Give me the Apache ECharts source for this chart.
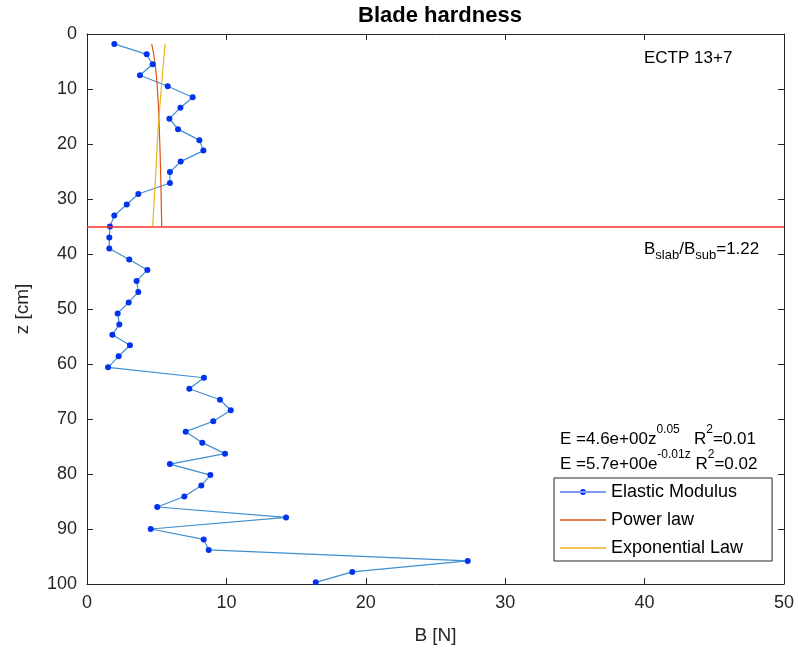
<!DOCTYPE html>
<html>
<head>
<meta charset="utf-8">
<script src="https://cdn.jsdelivr.net/npm/echarts@6/dist/echarts.min.js"></script>
<style>
  html, body { margin: 0; padding: 0; background: #fff; }
  #chart { width: 798px; height: 657px; }
</style>
</head>
<body>
<div id="chart"></div>
<script>
const zValues = [1.8, 3.7, 5.5, 7.5, 9.5, 11.5, 13.4, 15.4, 17.3, 19.3, 21.2, 23.2, 25.1, 27.1, 29.1, 31.0, 33.0,
  35.0, 37.0, 39.0, 41.0, 42.9, 44.9, 46.9, 48.8, 50.8, 52.8, 54.7, 56.6, 58.6, 60.6, 62.5, 64.5, 66.5,
  68.4, 70.4, 72.3, 74.3, 76.3, 78.2, 80.2, 82.1, 84.1, 86.0, 87.9, 90.0, 91.9, 93.8, 95.8, 97.8, 99.7]
const bValues = [1.96, 4.28, 4.71, 3.80, 5.79, 7.58, 6.70, 5.91, 6.53, 8.06, 8.35, 6.72, 5.95, 5.95, 3.68, 2.85, 1.96,
  1.65, 1.60, 1.60, 3.03, 4.33, 3.56, 3.68, 2.99, 2.20, 2.32, 1.82, 3.08, 2.27, 1.51, 8.39, 7.34, 9.54,
  10.31, 9.06, 7.08, 8.27, 9.90, 5.95, 8.85, 8.20, 6.98, 5.04, 14.28, 4.57, 8.37, 8.73, 27.31, 19.03, 16.41]

// fit curves (slab part)
const powerZ = [1.8, 5.3, 10, 17.5, 26, 35]
const powerB = [4.64, 4.88, 5.05, 5.19, 5.29, 5.36]
const expZ = [1.8, 9, 17.5, 26, 35]
const expB = [5.60, 5.36, 5.10, 4.92, 4.71]

const slabDepth = 35
const xTicks = [0, 10, 20, 30, 40, 50]
const yTicks = [0, 10, 20, 30, 40, 50, 60, 70, 80, 90, 100]

const font = 'Liberation Sans, Arial, Helvetica, sans-serif'
const axisCol = '#262626'

const pairs = (xs, zs) => xs.map((b, i) => [b, zs[i]])

const chart = echarts.init(document.getElementById('chart'))

// matlab style box: ticks inside on all four sides
const tickBase = {
  axisLine: { show: true, onZero: false, lineStyle: { color: axisCol, width: 1 } },
  axisTick: { show: true, inside: true, length: 6, lineStyle: { color: axisCol } },
  splitLine: { show: false }
}

// legend icons
const dotLineIcon = 'path://M0,2.5 H46 V3.5 H0 Z M20,3 A3,3 0 1,0 26,3 A3,3 0 1,0 20,3 Z'
const lineIcon = 'path://M0,0 H46 V1.4 H0 Z'

const option = {
  animation: false,
  backgroundColor: '#fff',
  textStyle: { fontFamily: font },
  title: {
    text: 'Blade hardness',
    left: 435, top: 0, textAlign: 'center',
    textStyle: { fontSize: 22, fontWeight: 'bold', color: '#000', fontFamily: font }
  },
  grid: { left: 87, right: 14, top: 34, bottom: 73 },
  xAxis: [{
    type: 'value', min: xTicks[0], max: xTicks[xTicks.length - 1], interval: 10,
    name: 'B [N]', nameLocation: 'middle', nameGap: 42,
    nameTextStyle: { fontSize: 19, color: axisCol, fontFamily: font },
    axisLabel: { fontSize: 18, color: axisCol, margin: 10, fontFamily: font },
    ...tickBase
  }, {
    type: 'value', position: 'top', min: 0, max: 50, interval: 10,
    axisLabel: { show: false }, ...tickBase
  }],
  yAxis: [{
    type: 'value', inverse: true, min: yTicks[0], max: yTicks[yTicks.length - 1], interval: 10,
    name: 'z [cm]', nameLocation: 'middle', nameGap: 55, nameRotate: 90,
    nameTextStyle: { fontSize: 19, color: axisCol, fontFamily: font },
    axisLabel: { fontSize: 18, color: axisCol, margin: 10, fontFamily: font },
    ...tickBase
  }, {
    type: 'value', position: 'right', inverse: true, min: 0, max: 100, interval: 10,
    axisLabel: { show: false }, ...tickBase
  }],
  legend: {
    orient: 'vertical',
    left: 554, top: 478,
    backgroundColor: '#fff',
    borderColor: axisCol, borderWidth: 1, borderRadius: 0,
    padding: [5, 29, 4, 6],
    itemGap: 10,
    itemWidth: 46, itemHeight: 14,
    symbolKeepAspect: true,
    textStyle: { fontSize: 18, color: '#000', fontFamily: font },
    data: [
      { name: 'Elastic Modulus', icon: dotLineIcon },
      { name: 'Power law', icon: lineIcon },
      { name: 'Exponential Law', icon: lineIcon }
    ]
  },
  series: [{
    name: 'Elastic Modulus',
    type: 'line',
    data: pairs(bValues, zValues),
    symbol: 'circle', symbolSize: 6,
    itemStyle: { color: '#0033ee' },
    lineStyle: { color: '#3e8fd0', width: 1.2 },
    z: 3,
    markLine: {
      silent: true, symbol: 'none', label: { show: false },
      lineStyle: { color: '#ff3030', width: 1.5, type: 'solid' },
      data: [{ yAxis: slabDepth }]
    }
  }, {
    name: 'Power law',
    type: 'line',
    data: pairs(powerB, powerZ),
    symbol: 'none', smooth: true,
    itemStyle: { color: '#D95319' },
    lineStyle: { color: '#D95319', width: 1.2 }
  }, {
    name: 'Exponential Law',
    type: 'line',
    data: pairs(expB, expZ),
    symbol: 'none', smooth: true,
    itemStyle: { color: '#EDB120' },
    lineStyle: { color: '#EDB120', width: 1.2 }
  }],
  graphic: [{
    type: 'text', left: 644, top: 50,
    style: { text: 'ECTP 13+7', fontSize: 17, fill: '#000', fontFamily: font }
  }, {
    type: 'text', left: 644, top: 241,
    style: {
      text: '{n|B}{s|slab}{n|/B}{s|sub}{n|=1.22}',
      fill: '#000', fontFamily: font,
      rich: {
        n: { fontSize: 17, lineHeight: 24, verticalAlign: 'middle', fontFamily: font },
        s: { fontSize: 13, lineHeight: 13, verticalAlign: 'bottom', fontFamily: font }
      }
    }
  }, {
    type: 'text', left: 560, top: 424,
    style: {
      text: '{n|E =4.6e+00z}{p|0.05}{n|   R}{p|2}{n|=0.01}',
      fill: '#000', fontFamily: font,
      rich: {
        n: { fontSize: 17, lineHeight: 24, verticalAlign: 'bottom', fontFamily: font },
        p: { fontSize: 12, lineHeight: 13, verticalAlign: 'top', fontFamily: font }
      }
    }
  }, {
    type: 'text', left: 560, top: 449,
    style: {
      text: '{n|E =5.7e+00e}{p|-0.01z}{n| R}{p|2}{n|=0.02}',
      fill: '#000', fontFamily: font,
      rich: {
        n: { fontSize: 17, lineHeight: 24, verticalAlign: 'bottom', fontFamily: font },
        p: { fontSize: 12, lineHeight: 13, verticalAlign: 'top', fontFamily: font }
      }
    }
  }]
}

chart.setOption(option)
</script>
</body>
</html>
